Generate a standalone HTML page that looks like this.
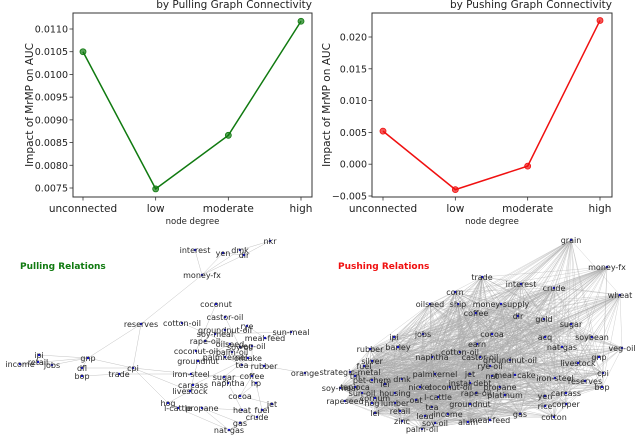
<!DOCTYPE html>
<html><head><meta charset="utf-8"><style>
html,body{margin:0;padding:0;background:#fff;}
svg{display:block;font-family:"DejaVu Sans","Liberation Sans",sans-serif;}
</style></head><body>
<svg id="fig" width="640" height="436" viewBox="0 0 640 436"></svg>
<script>
const categories = ["unconnected","low","moderate","high"];
const pullValues = [0.01050,0.00748,0.00866,0.01117];
const pushValues = [0.0052,-0.0040,-0.0003,0.0226];
const pullTicks = [0.0075,0.0080,0.0085,0.0090,0.0095,0.0100,0.0105,0.0110];
const pullTickLabels = ["0.0075","0.0080","0.0085","0.0090","0.0095","0.0100","0.0105","0.0110"];
const pushTicks = [-0.005,0,0.005,0.010,0.015,0.020];
const pushTickLabels = ["\u22120.005","0.000","0.005","0.010","0.015","0.020"];

const pullNodes = [["nkr",270,241],["interest",195,250],["yen",223,253],["dmk",240,250],["dlr",244,255],["money-fx",202,275],["coconut",216,304],["castor-oil",225,317],["cotton-oil",182,323],["reserves",141,324],["rye",247,326],["groundnut-oil",225,330],["sun-meal",291,332],["soy-meal",215,334],["rape-oil",205,341],["meal-feed",265,338],["coconut-oil",196,351],["soy-oil",240,347],["oilseed",230,344],["veg-oil",252,346],["gnp",88,358],["ipi",39,355],["income",20,364],["retail",38,362],["jobs",52,365],["groundnut",198,361],["palmkernel",225,357],["oilcake",248,358],["palm-oil",232,352],["dfl",82,368],["cpi",133,368],["trade",119,374],["iron-steel",191,374],["tea",242,365],["rubber",264,366],["orange",305,373],["bop",82,376],["sugar",224,377],["coffee",252,376],["naphtha",228,383],["hp",256,383],["carcass",193,385],["livestock",190,391],["cocoa",240,396],["hog",168,403],["l-cattle",178,408],["propane",202,408],["jet",272,404],["heat",242,410],["fuel",262,410],["crude",257,417],["gas",240,423],["nat-gas",229,430]];
const pullEdges = [["nkr","dlr"],["nkr","dmk"],["interest","money-fx"],["yen","money-fx"],["dmk","money-fx"],["dlr","money-fx"],["yen","dlr"],["money-fx","reserves"],["reserves","cpi"],["reserves","gnp"],["gnp","ipi"],["gnp","income"],["gnp","jobs"],["gnp","dfl"],["gnp","cpi"],["ipi","jobs"],["income","jobs"],["retail","jobs"],["dfl","cpi"],["bop","trade"],["trade","cpi"],["cpi","iron-steel"],["cpi","livestock"],["cpi","hog"],["trade","iron-steel"],["coconut","coconut-oil"],["castor-oil","soy-oil"],["cotton-oil","oilseed"],["rye","meal-feed"],["sun-meal","meal-feed"],["rape-oil","oilseed"],["coconut-oil","palm-oil"],["groundnut","oilcake"],["tea","rubber"],["rubber","orange"],["sugar","coffee"],["coffee","cocoa"],["naphtha","heat"],["hp","fuel"],["carcass","livestock"],["livestock","hog"],["hog","l-cattle"],["propane","heat"],["propane","gas"],["jet","fuel"],["heat","crude"],["fuel","crude"],["crude","gas"],["gas","nat-gas"],["propane","nat-gas"],["iron-steel","sugar"],["cocoa","jet"],["sugar","naphtha"],["l-cattle","nat-gas"],["oilseed","groundnut"],["palmkernel","tea"],["veg-oil","coffee"],["soy-meal","sun-meal"],["oilcake","sugar"],["hp","cocoa"],["livestock","groundnut"],["carcass","oilcake"]];

const pushNodes = [["grain",571,240],["money-fx",607,267],["trade",482,277],["interest",521,284],["crude",554,288],["corn",455,292],["wheat",620,295],["oilseed",430,304],["ship",458,304],["money-supply",501,304],["coffee",476,313],["dlr",518,316],["gold",544,319],["sugar",571,324],["jobs",423,334],["ipi",394,337],["cocoa",492,334],["acq",545,337],["soybean",592,337],["earn",477,344],["barley",398,347],["nat-gas",562,347],["veg-oil",622,348],["rubber",370,349],["gnp",599,357],["cotton-oil",460,352],["silver",372,361],["livestock",578,363],["naphtha",432,357],["groundnut-oil",510,360],["castor-oil",480,357],["fuel",364,366],["rye-oil",490,366],["strategic-metal",350,372],["palmkernel",435,374],["tin",355,376],["dmk",402,379],["jet",470,374],["nat",492,376],["meal-cake",515,375],["iron-steel",555,378],["cpi",603,373],["reserves",585,381],["pet-chem",372,380],["lei",385,384],["soy-meal",340,388],["nickel",420,387],["coconut-oil",450,387],["instal-debt",470,383],["propane",500,387],["bop",602,387],["housing",395,393],["sun-oil",362,393],["tapioca",355,387],["carcass",566,393],["yen",545,396],["rapeseed",345,401],["lumber",395,403],["oat",416,400],["l-cattle",438,397],["rape-oil",476,393],["platinum",505,395],["cornum",375,398],["hog",372,403],["groundnut",470,404],["copper",566,404],["rice",545,406],["tea",432,407],["lei2",375,413],["retail",400,411],["lead",425,416],["income",448,414],["gas",520,414],["zinc",402,421],["soy-oil",435,423],["meal-feed",490,420],["alum",468,422],["cotton",554,417],["palm-oil",422,429]];

const svg = document.getElementById('fig');
const NS = 'http://www.w3.org/2000/svg';
function mk(tag, attrs, parent){
  const e = document.createElementNS(NS, tag);
  for (const k in attrs) e.setAttribute(k, attrs[k]);
  (parent||svg).appendChild(e);
  return e;
}

function lineChart(cfg){
  const g = mk('g', {});
  
  
  const L=cfg.x0, R=cfg.x1, T=13, B=197;
  const xs = i => cfg.px0 + i*(cfg.px1-cfg.px0)/(categories.length-1);
  const ys = v => cfg.ty0 + (v-cfg.v0)*(cfg.ty1-cfg.ty0)/(cfg.v1-cfg.v0);
  const frame = mk('rect', {x:L,y:T,width:R-L,height:B-T,fill:'none',stroke:'#333','stroke-width':1}, g);
  
  
  cfg.ticks.forEach((t,i)=>{
    const y = ys(t);
    mk('line', {x1:L-3.5,x2:L,y1:y,y2:y,stroke:'#333','stroke-width':0.8}, g);
    const tx = mk('text', {x:L-5,y:y+3.5,'font-size':9.5,'text-anchor':'end',fill:'#222'}, g);
    tx.textContent = cfg.tickLabels[i];
    
    
  });
  categories.forEach((c,i)=>{
    const x = xs(i);
    mk('line', {x1:x,x2:x,y1:B,y2:B+3.5,stroke:'#333','stroke-width':0.8}, g);
    const tx = mk('text', {x:x,y:B+15,'font-size':10.5,'text-anchor':'middle',fill:'#222'}, g);
    tx.textContent = c;
    
    
  });
  const xl = mk('text', {x:(L+R)/2,y:224,'font-size':8.5,'text-anchor':'middle',fill:'#222'}, g);
  xl.textContent = 'node degree';
  
  
  const yl = mk('text', {x:0,y:0,'font-size':10.5,'text-anchor':'middle',fill:'#222',transform:`translate(${cfg.ylx},${(T+B)/2}) rotate(-90)`}, g);
  yl.textContent = 'Impact of MrMP on AUC';
  
  
  const tt = mk('text', {x:R,y:8,'font-size':10.5,'text-anchor':'end',fill:'#222'}, g);
  tt.textContent = cfg.title;
  
  
  const pts = cfg.values.map((v,i)=>xs(i)+','+ys(v)).join(' ');
  const pl = mk('polyline', {points:pts,fill:'none',stroke:cfg.color,'stroke-width':1.5}, g);
  
  
  cfg.values.forEach((v,i)=>{
    const c = mk('circle', {cx:xs(i),cy:ys(v),r:3,fill:cfg.color,'fill-opacity':0.7,stroke:cfg.color,'stroke-width':0.8}, g);
    
    
  });
}
lineChart({name:'pulling-line-chart',x0:73,x1:312,px0:83,px1:301,v0:0.0075,v1:0.0110,ty0:188,ty1:29,ticks:pullTicks,tickLabels:pullTickLabels,values:pullValues,color:'#107a10',title:'by Pulling Graph Connectivity',ylx:33});
lineChart({name:'pushing-line-chart',x0:372,x1:612,px0:383,px1:600,v0:-0.005,v1:0.020,ty0:196,ty1:37,ticks:pushTicks,tickLabels:pushTickLabels,values:pushValues,color:'#f01010',title:'by Pushing Graph Connectivity',ylx:330});

function network(name, nodes, edges, title, color, tx, ty, edgeOpacity){
  const g = mk('g', {});
  
  
  const pos = {};
  nodes.forEach(n=>pos[n[0]]=[n[1],n[2]]);
  const eg = mk('g', {stroke:'#aaa','stroke-width':0.5,'stroke-opacity':edgeOpacity}, g);
  edges.forEach(e=>{
    const a=pos[e[0]], b=pos[e[1]];
    if(!a||!b) return;
    const l = mk('line', {x1:a[0],y1:a[1],x2:b[0],y2:b[1]}, eg);
    
    
  });
  nodes.forEach(n=>{
    const c = mk('circle', {cx:n[1],cy:n[2],r:1.2,fill:'#1010d0'}, g);
    
    
    const t = mk('text', {x:n[1],y:n[2]+3,'font-size':8,'text-anchor':'middle',fill:'#2a2a2a'}, g);
    t.textContent = n[0].replace(/2$/,'');
    
    
  });
  const tt = mk('text', {x:tx,y:ty,'font-size':9,'font-weight':'bold',fill:color}, g);
  tt.textContent = title;
  
  
}
network('pulling-network', pullNodes, pullEdges, 'Pulling Relations', '#107a10', 20, 269, 0.7);

// pushing: densely connected graph, denser in the lower-left core
const pushEdges = [];
for (let i=0;i<pushNodes.length;i++){
  for (let j=i+1;j<pushNodes.length;j++){
    const core = pushNodes[i][2]>340 && pushNodes[j][2]>340 && pushNodes[i][1]<530 && pushNodes[j][1]<530;
    if ((i*7+j*13)%4===0 || (i<14 && (i+j)%3===0) || (core && (i+j)%2===0)) pushEdges.push([pushNodes[i][0],pushNodes[j][0]]);
  }
}
network('pushing-network', pushNodes, pushEdges, 'Pushing Relations', '#f01010', 338, 269, 0.55);
</script>
</body></html>
